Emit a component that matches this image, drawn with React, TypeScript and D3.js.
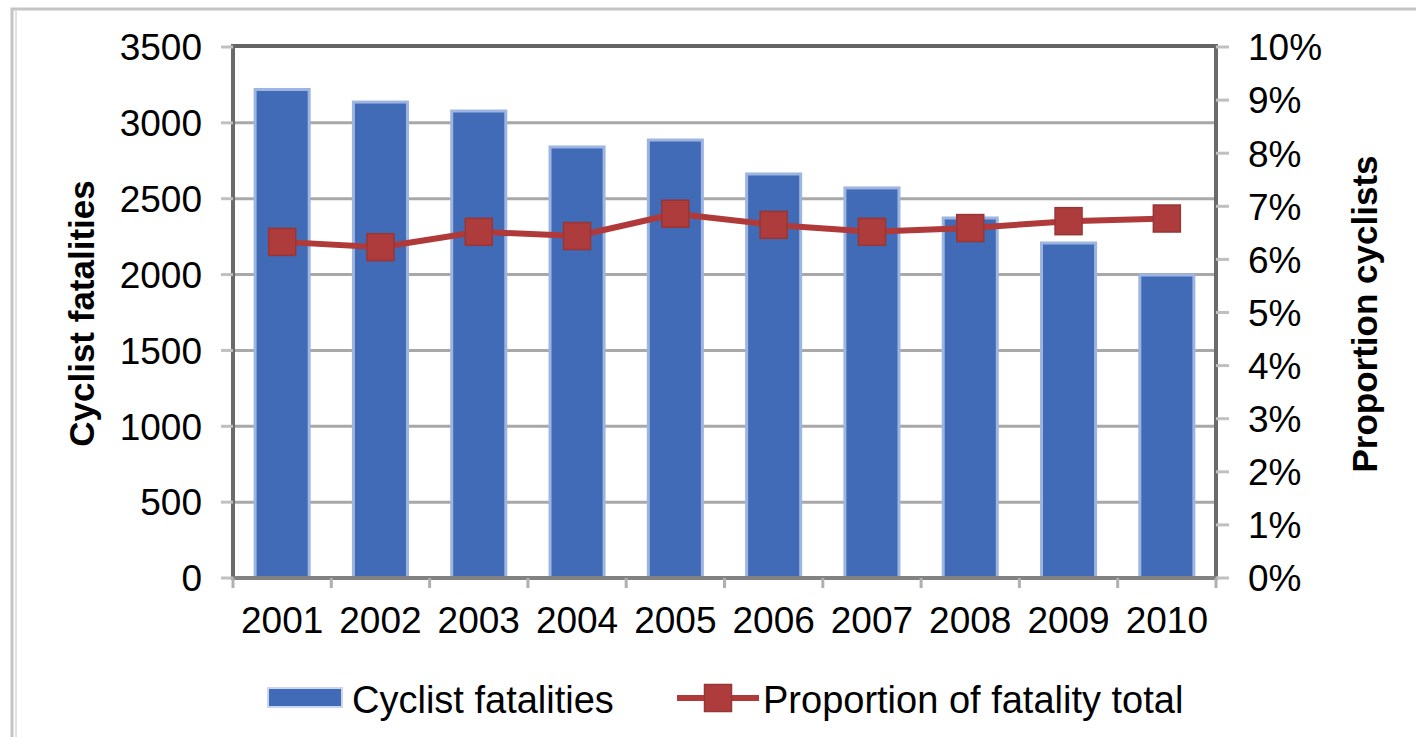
import React from "react";
import * as d3 from "d3";

const years = ["2001", "2002", "2003", "2004", "2005", "2006", "2007", "2008", "2009", "2010"];
const fatalities = [3220, 3137, 3078, 2841, 2887, 2663, 2571, 2373, 2208, 1997];
const proportion = [0.0633, 0.0623, 0.0652, 0.0644, 0.0686, 0.0665, 0.0652, 0.0659, 0.0672, 0.0677];
const leftTicks = [0, 500, 1000, 1500, 2000, 2500, 3000, 3500];
const rightTicks = [0, 0.01, 0.02, 0.03, 0.04, 0.05, 0.06, 0.07, 0.08, 0.09, 0.1];
const barLabel = "Cyclist fatalities";
const lineLabel = "Proportion of fatality total";
const leftTitle = "Cyclist fatalities";
const rightTitle = "Proportion cyclists";

const W = 1416;
const H = 737;
const X0 = 233;
const X1 = 1216;
const Y0 = 578;
const Y1 = 47;
const FONT = "'Liberation Sans', Arial, sans-serif";
const BAR = "#416BB6";
const RED = "#B03A3A";

export default function App() {
  const x = d3.scaleBand<string>().domain(years).range([X0, X1]).paddingInner(0.45).paddingOuter(0.225);
  const step = (X1 - X0) / years.length;
  const yL = d3.scaleLinear().domain([0, 3500]).range([Y0, Y1]);
  const yR = d3.scaleLinear().domain([0, 0.1]).range([Y0, Y1]);
  const pct = d3.format(".0%");
  const line = d3
    .line<number>()
    .x((_, i) => (x(years[i]) as number) + x.bandwidth() / 2)
    .y((d) => yR(d));
  const M = 27;

  return (
    <svg width={W} height={H} style={{ position: "absolute", left: 0, top: 0, background: "#fff" }} fontFamily={FONT}>
      {/* outer frame */}
      <rect x={12} y={9} width={W + 20} height={H + 20} fill="none" stroke="#c4c4c4" strokeWidth={3} />
      <line x1={16} x2={16} y1={10} y2={H} stroke="#e2e2e2" strokeWidth={2} />

      {/* gridlines */}
      {leftTicks.slice(1, -1).map((t) => (
        <line key={"g" + t} x1={X0} x2={X1} y1={yL(t)} y2={yL(t)} stroke="#a8a8a8" strokeWidth={3} />
      ))}

      {/* bars */}
      {fatalities.map((v, i) => (
        <rect
          key={"b" + i}
          x={x(years[i])}
          y={yL(v)}
          width={x.bandwidth()}
          height={Y0 - yL(v)}
          fill={BAR}
          stroke="#9db5e0"
          strokeWidth={3}
        />
      ))}

      {/* plot frame */}
      <line x1={X0} x2={X1 + 1} y1={Y1 - 1} y2={Y1 - 1} stroke="#646464" strokeWidth={4} />
      <line x1={X0} x2={X0} y1={Y1 - 3} y2={Y0 + 2} stroke="#6a6a6a" strokeWidth={4} />
      <line x1={X1} x2={X1} y1={Y1 - 3} y2={Y0 + 2} stroke="#6a6a6a" strokeWidth={4} />
      <line x1={X0} x2={X1 + 2} y1={Y0} y2={Y0} stroke="#828282" strokeWidth={4} />

      {/* ticks */}
      {leftTicks.map((t) => (
        <line key={"lt" + t} x1={221} x2={X0} y1={yL(t)} y2={yL(t)} stroke="#c0c0c0" strokeWidth={3} />
      ))}
      {rightTicks.map((t) => (
        <line key={"rt" + t} x1={X1} x2={1229} y1={yR(t)} y2={yR(t)} stroke="#c0c0c0" strokeWidth={3} />
      ))}
      {d3.range(years.length + 1).map((i) => (
        <line key={"bt" + i} x1={X0 + i * step} x2={X0 + i * step} y1={Y0} y2={Y0 + 10} stroke="#b0b0b0" strokeWidth={3} />
      ))}

      {/* line series */}
      <path d={line(proportion) || ""} fill="none" stroke={RED} strokeWidth={6} strokeLinejoin="round" />
      {proportion.map((v, i) => (
        <rect
          key={"m" + i}
          x={(x(years[i]) as number) + x.bandwidth() / 2 - M / 2}
          y={yR(v) - M / 2}
          width={M}
          height={M}
          fill="#AE3C3C"
          stroke="#983636"
          strokeWidth={1.5}
        />
      ))}

      {/* tick labels */}
      {leftTicks.map((t) => (
        <text key={"ll" + t} x={202} y={yL(t)} dy="0.36em" textAnchor="end" fontSize={37} fill="#000">
          {t}
        </text>
      ))}
      {rightTicks.map((t) => (
        <text key={"rl" + t} x={1248} y={yR(t)} dy="0.36em" textAnchor="start" fontSize={37} fill="#000">
          {pct(t)}
        </text>
      ))}
      {years.map((yv) => (
        <text key={"xl" + yv} x={(x(yv) as number) + x.bandwidth() / 2} y={633} textAnchor="middle" fontSize={37} fill="#000">
          {yv}
        </text>
      ))}

      {/* axis titles */}
      <text
        transform={`translate(94, ${(180 + 447) / 2}) rotate(-90)`}
        textAnchor="middle"
        fontSize={35}
        fontWeight="bold"
        fill="#000"
      >
        {leftTitle}
      </text>
      <text
        transform={`translate(1377, ${(155 + 473) / 2}) rotate(-90)`}
        textAnchor="middle"
        fontSize={35}
        fontWeight="bold"
        fill="#000"
      >
        {rightTitle}
      </text>

      {/* legend */}
      <rect x={268} y={688} width={74} height={19} fill={BAR} stroke="#c9d6ee" strokeWidth={2} />
      <text x={352} y={713} fontSize={38} fill="#000">
        {barLabel}
      </text>
      <line x1={677} x2={759} y1={698} y2={698} stroke={RED} strokeWidth={6} />
      <rect x={718 - M / 2} y={698 - M / 2} width={M} height={M} fill="#AE3C3C" stroke="#983636" strokeWidth={1.5} />
      <text x={763} y={713} fontSize={38} fill="#000">
        {lineLabel}
      </text>
    </svg>
  );
}
